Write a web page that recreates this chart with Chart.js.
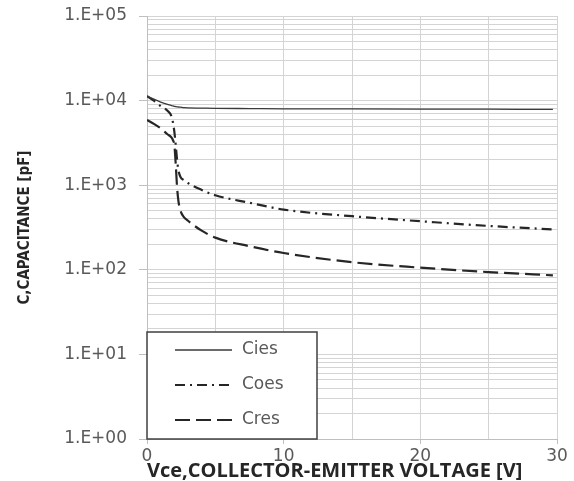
<!DOCTYPE html>
<html>
<head>
<meta charset="utf-8">
<script src="https://cdn.jsdelivr.net/npm/chart.js@4.4.1/dist/chart.umd.min.js"></script>
<style>
  html, body { margin: 0; padding: 0; background: #fff; }
  canvas { display: block; }
</style>
</head>
<body>
<canvas id="capChart" width="574" height="481"></canvas>
<script>
// Vce sample points [V]
var voltage = [0, 0.5, 1, 1.5, 1.8, 1.9, 2.0, 2.1, 2.2, 2.3, 2.45, 2.7, 3, 4, 5, 7.5, 10, 15, 20, 25, 29.7];

// capacitances [pF]
var cies = [11300, 10400, 9600, 9000, 8700, 8650, 8550, 8500, 8450, 8400, 8350, 8250, 8200, 8150, 8100, 8050, 8000, 7970, 7940, 7910, 7880];
var coes = [11300, 10000, 8600, 7600, 6500, 5500, 4300, 3000, 2000, 1500, 1250, 1150, 1060, 880, 760, 620, 515, 430, 375, 330, 300];
var cres = [5900, 5300, 4700, 4000, 3650, 3400, 3000, 1800, 950, 650, 500, 420, 380, 290, 240, 190, 158, 123, 106, 94, 86];

var decades = [1, 10, 100, 1000, 10000, 100000];
var xLabelled = [0, 10, 20, 30];

// grid rows: 1..9 in every decade
var yGrid = [];
decades.forEach(function(d, i) {
  if (i == decades.length - 1) { yGrid.push(d); return; }
  for (var k = 1; k < 10; k++) yGrid.push(d * k);
});

function points(ys) {
  return voltage.map(function(v, i) { return { x: v, y: ys[i] }; });
}

function isDecade(v) {
  return decades.indexOf(v) != -1;
}

function sciLabel(v) {
  var e = Math.round(Math.log10(v));
  return '1.E+' + (e < 10 ? '0' + e : e);
}

var legendBox = {
  id: 'legendBox',
  afterDatasetsDraw: function(chart, args, opts) {
    var ctx = chart.ctx, area = chart.chartArea;
    var x = area.left, y = area.bottom - opts.height;
    ctx.save();
    ctx.fillStyle = '#fff';
    ctx.fillRect(x, y, opts.width, opts.height);
    ctx.lineWidth = 1.5;
    ctx.strokeStyle = '#404040';
    ctx.strokeRect(x, y, opts.width, opts.height);
    ctx.font = opts.font;
    ctx.textBaseline = 'middle';
    chart.data.datasets.forEach(function(ds, i) {
      var ly = y + opts.firstRow + i * opts.rowGap;
      ctx.beginPath();
      ctx.setLineDash(ds.borderDash || []);
      ctx.lineWidth = ds.borderWidth;
      ctx.strokeStyle = ds.borderColor;
      ctx.moveTo(x + opts.lineStart, ly);
      ctx.lineTo(x + opts.lineEnd, ly);
      ctx.stroke();
      ctx.setLineDash([]);
      ctx.fillStyle = '#595959';
      ctx.fillText(ds.label, x + opts.textStart, ly);
    });
    ctx.restore();
  }
};

var tickFont = { family: 'DejaVu Sans', size: 17 };

new Chart(document.getElementById('capChart').getContext('2d'), {
  type: 'line',
  data: {
    datasets: [
      { label: 'Cies', data: points(cies), borderColor: '#3a3a3a', borderWidth: 1.3, borderDash: [] },
      { label: 'Coes', data: points(coes), borderColor: '#262626', borderWidth: 2.2, borderDash: [10, 5, 2, 5] },
      { label: 'Cres', data: points(cres), borderColor: '#262626', borderWidth: 2.2, borderDash: [15, 6] }
    ]
  },
  options: {
    responsive: false,
    animation: false,
    devicePixelRatio: 1,
    elements: {
      point: { radius: 0 },
      line: { cubicInterpolationMode: 'monotone', fill: false }
    },
    layout: { padding: { left: 0, right: 17, top: 16, bottom: 0 } },
    plugins: {
      legend: { display: false },
      tooltip: { enabled: false },
      legendBox: {
        width: 170, height: 107,
        firstRow: 18, rowGap: 35,
        lineStart: 28, lineEnd: 85, textStart: 95,
        font: '17px "DejaVu Sans"'
      }
    },
    scales: {
      x: {
        type: 'linear',
        min: 0, max: 30,
        ticks: {
          stepSize: 5,
          autoSkip: false,
          maxRotation: 0,
          padding: 2,
          color: '#595959',
          font: tickFont,
          callback: function(v) { return xLabelled.indexOf(v) != -1 ? String(v) : ''; }
        },
        grid: {
          color: '#d4d4d4',
          tickLength: 5,
          tickColor: function(c) { return c.tick && xLabelled.indexOf(c.tick.value) != -1 ? '#bfbfbf' : 'rgba(0,0,0,0)'; }
        },
        border: { color: '#bfbfbf' },
        title: {
          display: true,
          align: 'start',
          text: 'Vce,COLLECTOR-EMITTER VOLTAGE [V]',
          color: '#262626',
          font: { family: 'Open Sans', size: 20, weight: 'bold', lineHeight: 1 },
          padding: { top: 0, bottom: 0 }
        },
        afterFit: function(scale) { scale.height = 42; }
      },
      y: {
        type: 'logarithmic',
        min: 1, max: 100000,
        afterBuildTicks: function(scale) {
          scale.ticks = yGrid.map(function(v) { return { value: v, major: isDecade(v) }; });
        },
        ticks: {
          autoSkip: false,
          padding: 12,
          color: '#595959',
          font: tickFont,
          callback: function(v) { return isDecade(v) ? sciLabel(v) : ''; }
        },
        grid: {
          color: '#d4d4d4',
          tickLength: 8,
          tickColor: function(c) { return c.tick && isDecade(c.tick.value) ? '#bfbfbf' : 'rgba(0,0,0,0)'; }
        },
        border: { color: '#bfbfbf' },
        title: {
          display: true,
          text: 'C,CAPACITANCE [pF]',
          color: '#262626',
          font: { family: 'DejaVu Sans Condensed', size: 15, weight: 'bold', lineHeight: 1.2 },
          padding: { top: 16, bottom: 0 }
        },
        afterFit: function(scale) {
          scale.width = 147;
          // let the layout padding decide where the plot starts
          scale.paddingTop = 0;
          scale.paddingBottom = 0;
        }
      }
    }
  },
  plugins: [legendBox]
});
</script>
</body>
</html>
